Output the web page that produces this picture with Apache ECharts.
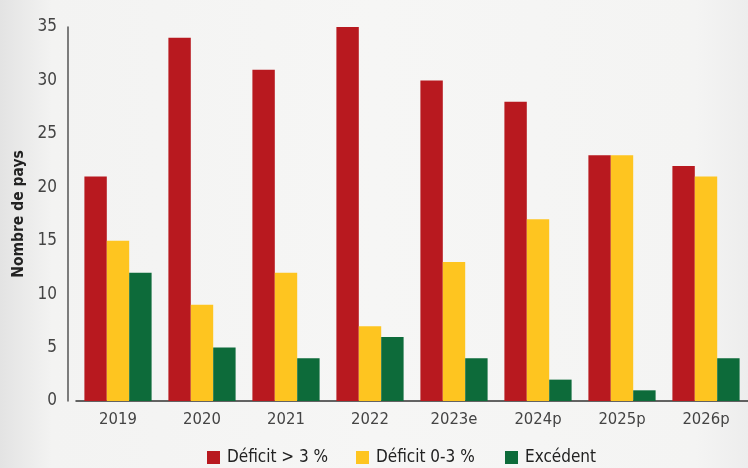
<!DOCTYPE html>
<html>
<head>
<meta charset="utf-8">
<script src="https://cdn.jsdelivr.net/npm/echarts@6/dist/echarts.min.js"></script>
<style>
html,body{margin:0;padding:0;width:748px;height:468px;overflow:hidden;}
#c{width:748px;height:468px;}
</style>
</head>
<body>
<div id="c"></div>
<script>
var categories = ['2019','2020','2021','2022','2023e','2024p','2025p','2026p'];
var deficitOver3 = [21, 34, 31, 35, 30, 28, 23, 22];
var deficit0to3 = [15, 9, 12, 7, 13, 17, 23, 21];
var excedent = [12, 5, 4, 6, 4, 2, 1, 4];
var seriesNames = ['Déficit > 3 %', 'Déficit 0-3 %', 'Excédent'];
var yTicks = [0, 5, 10, 15, 20, 25, 30, 35];

var FONT = '"Liberation Sans Narrow","DejaVu Sans Condensed",sans-serif';
var chart = echarts.init(document.getElementById('c'), null, {renderer:'canvas'});
var colors = ['#b8191f', '#fec520', '#0d6b3a'];
var data = [deficitOver3, deficit0to3, excedent];
var legendLefts = [207, 356, 505];

chart.setOption({
  animation: false,
  backgroundColor: new echarts.graphic.LinearGradient(0, 0, 1, 0, [
    {offset: 0, color: '#e3e3e3'},
    {offset: 0.07, color: '#f3f3f2'},
    {offset: 0.5, color: '#f6f6f5'},
    {offset: 0.93, color: '#f4f4f3'},
    {offset: 1, color: '#ededed'}
  ]),
  textStyle: {fontFamily: FONT},
  grid: {left: 76, top: 27, width: 675, height: 374, containLabel: false},
  legend: seriesNames.map(function(n, i){
    return {
      left: legendLefts[i], top: 449, padding: 0,
      itemWidth: 13, itemHeight: 13,
      icon: 'rect',
      textStyle: {fontFamily: FONT, fontSize: 17, color: '#222', padding: [0,0,0,2]},
      data: [n]
    };
  }),
  xAxis: {
    type: 'category',
    data: categories,
    axisLine: {lineStyle: {color: '#333', width: 1.5}},
    axisTick: {show: false},
    axisLabel: {fontFamily: FONT, fontSize: 16.5, color: '#444', margin: 10}
  },
  yAxis: {
    type: 'value',
    min: 0, max: 35, interval: 5,
    offset: 8,
    name: 'Nombre de pays',
    nameLocation: 'middle',
    nameGap: 40,
    nameRotate: 90,
    nameTextStyle: {fontFamily: FONT, fontSize: 15.5, fontWeight: 'bold', color: '#222'},
    axisLine: {show: true, lineStyle: {color: '#555', width: 1.5}},
    axisTick: {show: false},
    splitLine: {show: false},
    axisLabel: {fontFamily: FONT, fontSize: 17, color: '#444', margin: 11, padding: [0,0,5,0],
      formatter: function(v){ return yTicks.indexOf(v) >= 0 ? String(v) : ''; }}
  },
  series: seriesNames.map(function(n, i){
    return {
      name: n, type: 'bar', data: data[i],
      barGap: '0%', barCategoryGap: '20%',
      itemStyle: {color: colors[i]}
    };
  })
});
</script>
</body>
</html>
